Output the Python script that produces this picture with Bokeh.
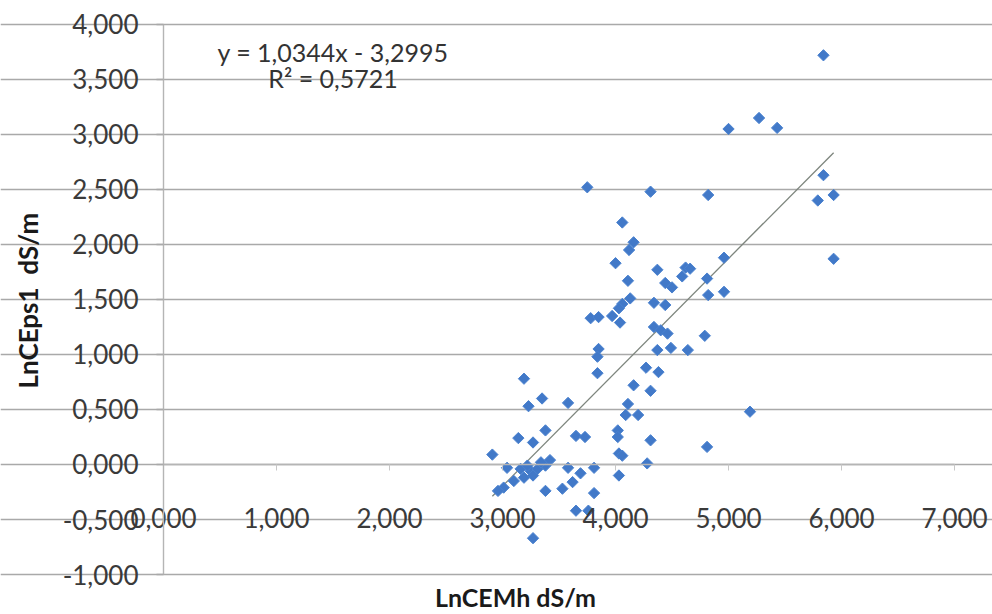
import math
from bokeh.plotting import figure
from bokeh.models import CustomJSTickFormatter, FixedTicker, Range1d
from bokeh.core.properties import value
from bokeh.embed import file_html
from bokeh.resources import INLINE

# Observed values (natural log of electrical conductivity, dS/m)
lncemh = [5.84, 5.00, 5.27, 5.43, 5.84, 5.79, 5.93, 5.93, 3.75, 4.31,
          4.82, 4.06, 4.16, 4.12, 4.00, 4.37, 4.62, 4.66, 4.59, 4.11,
          4.44, 4.50, 4.81, 4.82, 4.96, 4.96, 4.13, 4.06, 4.03, 3.78,
          3.85, 3.97, 4.04, 4.34, 4.44, 4.34, 4.40, 4.46, 4.79, 3.85,
          3.84, 3.84, 4.27, 4.38, 4.16, 4.31, 4.11, 4.09, 4.20, 4.02,
          4.02, 4.31, 4.81, 4.03, 4.06, 4.28, 3.81, 4.03, 3.81, 4.37,
          4.49, 4.64, 3.19, 3.23, 3.35, 3.58, 5.19, 3.65, 3.73, 3.14,
          3.27, 3.38, 2.91, 3.04, 3.16, 3.25, 3.31, 3.38, 3.42, 3.19,
          3.10, 3.01, 2.96, 3.58, 3.69, 3.62, 3.53, 3.38, 3.65, 3.76,
          3.27, 3.22, 3.34, 3.27]
lnceps1 = [3.72, 3.05, 3.15, 3.06, 2.63, 2.40, 2.45, 1.87, 2.52, 2.48,
           2.45, 2.20, 2.02, 1.95, 1.83, 1.77, 1.79, 1.78, 1.71, 1.67,
           1.65, 1.61, 1.69, 1.54, 1.57, 1.88, 1.51, 1.46, 1.42, 1.33,
           1.34, 1.35, 1.29, 1.47, 1.45, 1.25, 1.22, 1.19, 1.17, 1.05,
           0.98, 0.83, 0.88, 0.84, 0.72, 0.67, 0.55, 0.45, 0.45, 0.31,
           0.25, 0.22, 0.16, 0.10, 0.08, 0.01, -0.03, -0.10, -0.26, 1.04,
           1.06, 1.04, 0.78, 0.53, 0.60, 0.56, 0.48, 0.26, 0.25, 0.24,
           0.20, 0.31, 0.09, -0.03, -0.04, -0.06, -0.04, -0.01, 0.04, -0.12,
           -0.15, -0.21, -0.24, -0.03, -0.08, -0.16, -0.22, -0.24, -0.42, -0.42,
           -0.67, -0.01, 0.02, -0.10]

# Linear trend fitted to the data
slope = 1.0344
intercept = -3.2995
r_squared = 0.5721

x_ticks = [0, 1, 2, 3, 4, 5, 6, 7]
y_ticks = [-1.0, -0.5, 0.0, 0.5, 1.0, 1.5, 2.0, 2.5, 3.0, 3.5, 4.0]
x_title = "LnCEMh dS/m"
y_title = "LnCEps1 \u00a0dS/m"

FONT = "Lato"
GRID = "#a9a9a9"
TICK_TEXT = "#3a3a3a"
TITLE_TEXT = "#1a1a1a"
TICK_SIZE = "26px"

# The frame covers the whole canvas; both axes sit inside it, crossing at
# x = 0 and y = 0, so none of their labels are clipped.
p = figure(width=992, height=614, output_backend="svg", toolbar_location=None,
           x_range=Range1d(-1.4425, 7.336), y_range=Range1d(-1.3636, 4.218),
           min_border=0, min_border_left=0, min_border_right=0,
           min_border_top=0, min_border_bottom=0,
           background_fill_color="white", border_fill_color="white")
p.outline_line_color = None

comma_fmt = CustomJSTickFormatter(code="return tick.toFixed(3).replace('.', ',');")

# Horizontal gridlines over the data span
p.xgrid.grid_line_color = None
p.ygrid.grid_line_color = GRID
p.ygrid.grid_line_width = 1.7
p.ygrid.ticker = FixedTicker(ticks=y_ticks)
p.ygrid.bounds = (-0.062, 7)

# Vertical axis at x = 0
yax = p.yaxis[0]
yax.fixed_location = 0
yax.bounds = (-1, 4)
yax.ticker = FixedTicker(ticks=y_ticks)
yax.formatter = comma_fmt
yax.axis_line_color = "#b5b5b5"
yax.axis_line_width = 1.4
yax.major_tick_line_color = GRID
yax.major_tick_line_width = 1.7
yax.major_tick_out = 7
yax.major_tick_in = 0
yax.minor_tick_line_color = None
yax.major_label_standoff = 18
yax.major_label_text_font = FONT
yax.major_label_text_font_size = TICK_SIZE
yax.major_label_text_color = TICK_TEXT

# Horizontal axis at y = 0; its labels hang down onto the -0.5 row
xax = p.xaxis[0]
xax.fixed_location = 0
xax.bounds = (0, 7)
xax.ticker = FixedTicker(ticks=x_ticks)
xax.formatter = comma_fmt
xax.axis_line_color = "#b5b5b5"
xax.axis_line_width = 1.4
xax.major_tick_line_color = "#c8c8c8"
xax.major_tick_out = 6
xax.major_tick_in = 0
xax.minor_tick_line_color = None
xax.major_label_standoff = 38
xax.major_label_text_font = FONT
xax.major_label_text_font_size = TICK_SIZE
xax.major_label_text_color = TICK_TEXT

# Axis titles
p.text([3.115], [-1.205], text=[x_title], text_font=value(FONT),
       text_font_size="25px", text_font_style="bold", text_color=TITLE_TEXT,
       text_align="center", text_baseline="middle")
p.text([-1.195], [1.49], text=[y_title], text_font=value(FONT),
       text_font_size="26px", text_font_style="bold", text_color=TITLE_TEXT,
       text_align="center", text_baseline="middle", angle=math.pi / 2)

# Trendline across the observed x span
x_lo, x_hi = min(lncemh), max(lncemh)
p.line([x_lo, x_hi], [slope * x_lo + intercept, slope * x_hi + intercept],
       line_color="#7d857d", line_width=1.3)

# Data points as diamonds
p.scatter(lncemh, lnceps1, marker="square", angle=0.785398, size=8,
          fill_color="#4279c8", line_color="#4a82d0", line_width=1)

# Regression annotation
eq_text = "y = {:.4f}x - {:.4f}".format(slope, -intercept).replace(".", ",")
r2_text = "R\u00b2 = {:.4f}".format(r_squared).replace(".", ",")
p.text([1.50], [3.75], text=[eq_text], text_font=value(FONT), text_font_size="25px",
       text_color="#333333", text_align="center", text_baseline="middle")
p.text([1.50], [3.51], text=[r2_text], text_font=value(FONT), text_font_size="25px",
       text_color="#333333", text_align="center", text_baseline="middle")

open("out.html", "w").write(file_html(p, INLINE))
